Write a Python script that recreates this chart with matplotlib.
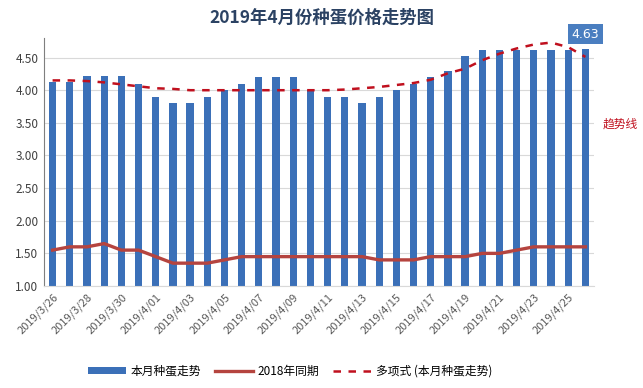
import matplotlib
matplotlib.use("Agg")
import matplotlib.pyplot as plt
import numpy as np
from datetime import date, timedelta

plt.rcParams['font.family'] = ['Noto Sans CJK SC', 'DejaVu Sans']

# data
start = date(2019, 3, 26)
dates = [start + timedelta(days=i) for i in range(32)]
labels = [f"{d.year}/{d.month}/{d.day:02d}" if d.month == 4 else f"{d.year}/{d.month}/{d.day}" for d in dates]

price_2019 = [4.12, 4.12, 4.22, 4.22, 4.22, 4.10, 3.90, 3.80, 3.80, 3.90,
              4.00, 4.10, 4.20, 4.20, 4.20, 4.00, 3.90, 3.90, 3.80, 3.90,
              4.00, 4.10, 4.20, 4.30, 4.52, 4.61, 4.61, 4.61, 4.61, 4.61,
              4.62, 4.63]
price_2018 = [1.55, 1.60, 1.60, 1.65, 1.55, 1.55, 1.45, 1.35, 1.35, 1.35,
              1.40, 1.45, 1.45, 1.45, 1.45, 1.45, 1.45, 1.45, 1.45, 1.40,
              1.40, 1.40, 1.45, 1.45, 1.45, 1.50, 1.50, 1.55, 1.60, 1.60,
              1.60, 1.60]
trend = [4.15, 4.15, 4.14, 4.12, 4.09, 4.06, 4.03, 4.02, 4.00, 4.00,
         4.00, 4.00, 4.00, 4.00, 4.00, 4.00, 4.00, 4.01, 4.03, 4.05,
         4.08, 4.11, 4.16, 4.26, 4.33, 4.46, 4.56, 4.64, 4.70, 4.73,
         4.66, 4.51]

x = np.arange(len(price_2019))

fig = plt.figure(figsize=(6.43, 3.88), dpi=100)
ax = fig.add_axes([44/643, 1 - 286/388, (594-44)/643, (286-38)/388])

bars = ax.bar(x, price_2019, width=0.42, color='#3b70b8', zorder=2, label='本月种蛋走势')
l18, = ax.plot(x, price_2018, color='#b5443f', lw=2.4, zorder=3, label='2018年同期')
ltr, = ax.plot(x, trend, color='#c0101e', lw=1.8, ls=(0, (3, 3)), zorder=4, label='多项式 (本月种蛋走势)')

ax.set_xlim(-0.5, len(x) - 0.5)
ax.set_ylim(1.0, 4.8)
ticks = np.arange(1.0, 4.51, 0.5)
ax.set_yticks(ticks)
ax.set_yticklabels([f"{v:.2f}" for v in ticks], fontsize=8.5, color='#404040')
ax.set_xticks(x[::2])
ax.set_xticklabels(labels[::2], rotation=45, ha='right', rotation_mode='anchor',
                   fontsize=8, color='#595959')
ax.tick_params(length=0, pad=4)
ax.grid(axis='y', color='#d9d9d9', lw=0.8, zorder=0)
for s in ['top', 'right']:
    ax.spines[s].set_visible(False)
ax.spines['left'].set_color('#7f7f7f')
ax.spines['bottom'].set_color('#d9d9d9')

ax.text(x[-1], price_2019[-1] + 0.13, f"{price_2019[-1]:.2f}", ha='center', va='bottom',
        fontsize=9, color='white', family='DejaVu Sans',
        bbox=dict(boxstyle='square,pad=0.3', fc='#4a7ec0', ec='none'), zorder=5)

fig.text(603/643, 1 - 124/388, '趋势线', color='#c0101e', fontsize=8.5, ha='left', va='center')
fig.text(0.5, 1 - 18/388, '2019年4月份种蛋价格走势图', ha='center', va='center',
         fontsize=12.5, fontweight='bold', color='#2b4263')

fig.legend([bars, l18, ltr], ['本月种蛋走势', '2018年同期', '多项式 (本月种蛋走势)'],
           loc='center', bbox_to_anchor=(290/643, 1 - 371/388), ncol=3, frameon=False,
           fontsize=8.5, handlelength=3.2, handleheight=0.5, handletextpad=0.4,
           columnspacing=1.2)

fig.savefig('out.png', dpi=100, facecolor='white')
